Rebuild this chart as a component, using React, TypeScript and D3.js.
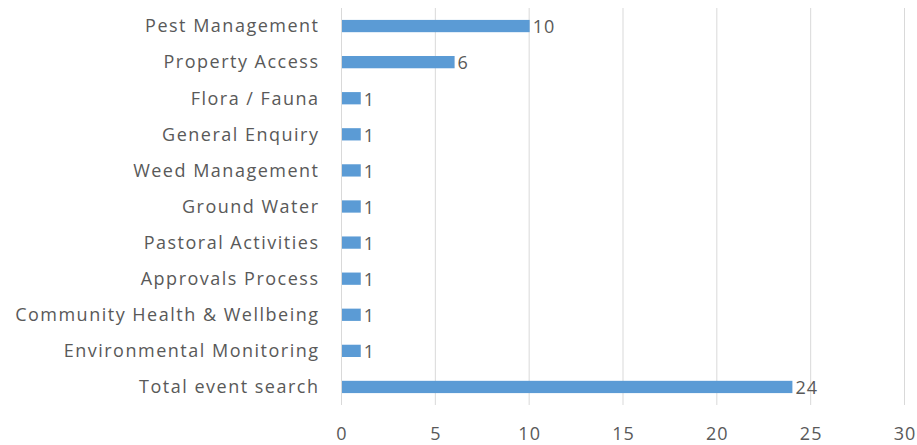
import { useEffect, useRef } from 'react';
import * as d3 from 'd3';

const categories = [
  'Pest Management',
  'Property Access',
  'Flora / Fauna',
  'General Enquiry',
  'Weed Management',
  'Ground Water',
  'Pastoral Activities',
  'Approvals Process',
  'Community Health & Wellbeing',
  'Environmental Monitoring',
  'Total event search',
];
const values = [10, 6, 1, 1, 1, 1, 1, 1, 1, 1, 24];
const xTicks = [0, 5, 10, 15, 20, 25, 30];

const W = 917;
const H = 445;
const FONT = '"Open Sans", sans-serif';
const TEXT = '#595959';

export default function App() {
  const svgRef = useRef<SVGSVGElement>(null);

  useEffect(() => {
    const svg = d3.select(svgRef.current!);
    svg.selectAll('*').remove();

    const x = d3.scaleLinear().domain([0, 30]).range([341, 904]);
    const y = d3.scaleBand<string>().domain(categories).range([8, 405]).paddingInner(0.66).paddingOuter(0.33);

    // gridlines
    svg.append('g').selectAll('line').data(xTicks).join('line')
      .attr('x1', (d) => x(d) + 0.5).attr('x2', (d) => x(d) + 0.5)
      .attr('y1', 8).attr('y2', 405)
      .attr('stroke', '#d9d9d9').attr('stroke-width', 1);

    // tick labels
    svg.append('g').selectAll('text').data(xTicks).join('text')
      .attr('x', (d) => x(d) + 1).attr('y', 440)
      .attr('text-anchor', 'middle').attr('font-family', FONT).attr('font-size', 18)
      .attr('letter-spacing', 1).attr('fill', TEXT).text((d) => d);

    // category labels
    svg.append('g').selectAll('text').data(categories).join('text')
      .attr('x', 319.5).attr('y', (d) => y(d)! + y.bandwidth() / 2)
      .attr('dy', '0.35em').attr('text-anchor', 'end')
      .attr('font-family', FONT).attr('font-size', 18).attr('letter-spacing', 1.5).attr('fill', TEXT)
      .text((d) => d);

    // bars
    svg.append('g').selectAll('rect').data(values).join('rect')
      .attr('x', x(0) + 1).attr('y', (_, i) => y(categories[i])!)
      .attr('width', (d) => x(d) - x(0)).attr('height', y.bandwidth())
      .attr('fill', '#5B9BD5');

    // value labels
    svg.append('g').selectAll('text').data(values).join('text')
      .attr('x', (d) => x(d) + 4).attr('y', (_, i) => y(categories[i])! + y.bandwidth() / 2 + 1)
      .attr('dy', '0.35em').attr('font-family', FONT).attr('font-size', 18).attr('letter-spacing', 1)
      .attr('fill', TEXT).text((d) => d);
  }, []);

  return (
    <svg ref={svgRef} width={W} height={H} style={{ position: 'absolute', left: 0, top: 0, background: '#fff' }} />
  );
}
